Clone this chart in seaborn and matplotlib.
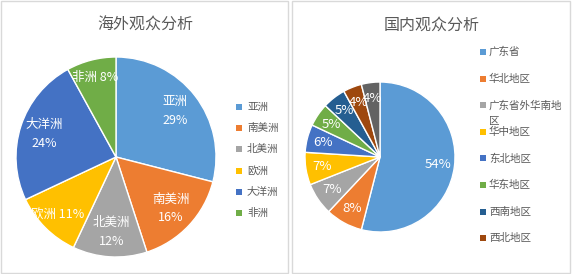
import matplotlib
matplotlib.use("Agg")
import matplotlib.pyplot as plt
import seaborn as sns
import numpy as np
from matplotlib.patches import Rectangle

# ---------------- data ----------------
overseas_regions = ["亚洲", "南美洲", "北美洲", "欧洲", "大洋洲", "非洲"]
overseas_pct = [29, 16, 12, 11, 24, 8]

domestic_regions = ["广东省", "华北地区", "广东省外华南地\n区", "华中地区", "东北地区",
                    "华东地区", "西南地区", "西北地区", "其他地区"]
domestic_pct = [54, 8, 7, 7, 6, 5, 5, 4, 4]

title_left = "海外观众分析"
title_right = "国内观众分析"

# ---------------- style ----------------
sns.set_theme(style="white")
plt.rcParams["font.family"] = ["Noto Sans CJK SC", "DejaVu Sans"]

excel = ["#5B9BD5", "#ED7D31", "#A5A5A5", "#FFC000", "#4472C4",
         "#70AD47", "#255E91", "#9E480E", "#636363"]
palette = sns.color_palette(excel)
GRAY = "#595959"

W, H = 574, 274
fig = plt.figure(figsize=(W / 100, H / 100), dpi=100)
fig.patch.set_facecolor("white")


def fx(x):
    return x / W


def fy(y):
    return 1 - y / H


def px_axes(cx, cy, r):
    return fig.add_axes([(cx - r) / W, (H - cy - r) / H, 2 * r / W, 2 * r / H])


# panel borders
for x0, x1 in [(1, 288), (292, 570)]:
    fig.patches.append(Rectangle((fx(x0), fy(273)), fx(x1) - fx(x0), fy(1) - fy(273),
                                 transform=fig.transFigure, fill=False,
                                 edgecolor="#D9D9D9", linewidth=1))


def draw_pie(ax, values, colors):
    wedges, _ = ax.pie(values, colors=colors, startangle=90, counterclock=False,
                       radius=1, wedgeprops=dict(edgecolor="white", linewidth=1))
    ax.set_xlim(-1, 1)
    ax.set_ylim(-1, 1)
    ax.set_aspect("equal")
    ax.axis("off")
    return wedges


# ---------- left pie ----------
axL = px_axes(116, 157, 100)
wL = draw_pie(axL, overseas_pct, palette[:len(overseas_pct)])
for w, name, p in zip(wL, overseas_regions, overseas_pct):
    th = np.deg2rad((w.theta1 + w.theta2) / 2)
    if p >= 12:
        txt, r = f"{name}\n{p}%", 0.75
    else:
        txt, r = f"{name} {p}%", 0.82
    axL.text(r * np.cos(th), r * np.sin(th), txt, ha="center", va="center",
             color="white", fontsize=9, linespacing=1.55)

# ---------- right pie ----------
axR = px_axes(380, 157, 75)
wR = draw_pie(axR, domestic_pct, palette[:len(domestic_pct)])
for w, p in zip(wR, domestic_pct):
    th = np.deg2rad((w.theta1 + w.theta2) / 2)
    r = 0.78
    axR.text(r * np.cos(th), r * np.sin(th), f"{p}%", ha="center", va="center",
             color="white", fontsize=9.5)

# ---------- titles ----------
fig.text(fx(145), fy(25), title_left, ha="center", va="center", fontsize=11.5, color=GRAY)
fig.text(fx(432), fy(25), title_right, ha="center", va="center", fontsize=11.5, color=GRAY)


# ---------- legends ----------
def legend(x_box, x_text, y0, step, names, colors):
    for i, (name, c) in enumerate(zip(names, colors)):
        y = y0 + i * step
        fig.patches.append(Rectangle((fx(x_box), fy(y + 3)), 6 / W, 6 / H,
                                     transform=fig.transFigure, facecolor=c,
                                     edgecolor="none"))
        for k, line in enumerate(name.split("\n")):
            fig.text(fx(x_text), fy(y + 16 * k), line, ha="left", va="center",
                     fontsize=7.6, color=GRAY)


legend(236, 247, 107, 21.2, overseas_regions, palette[:6])
legend(480, 489, 52, 26.6, domestic_regions[:8], palette[:8])

fig.savefig("out.png", dpi=100, facecolor="white")
